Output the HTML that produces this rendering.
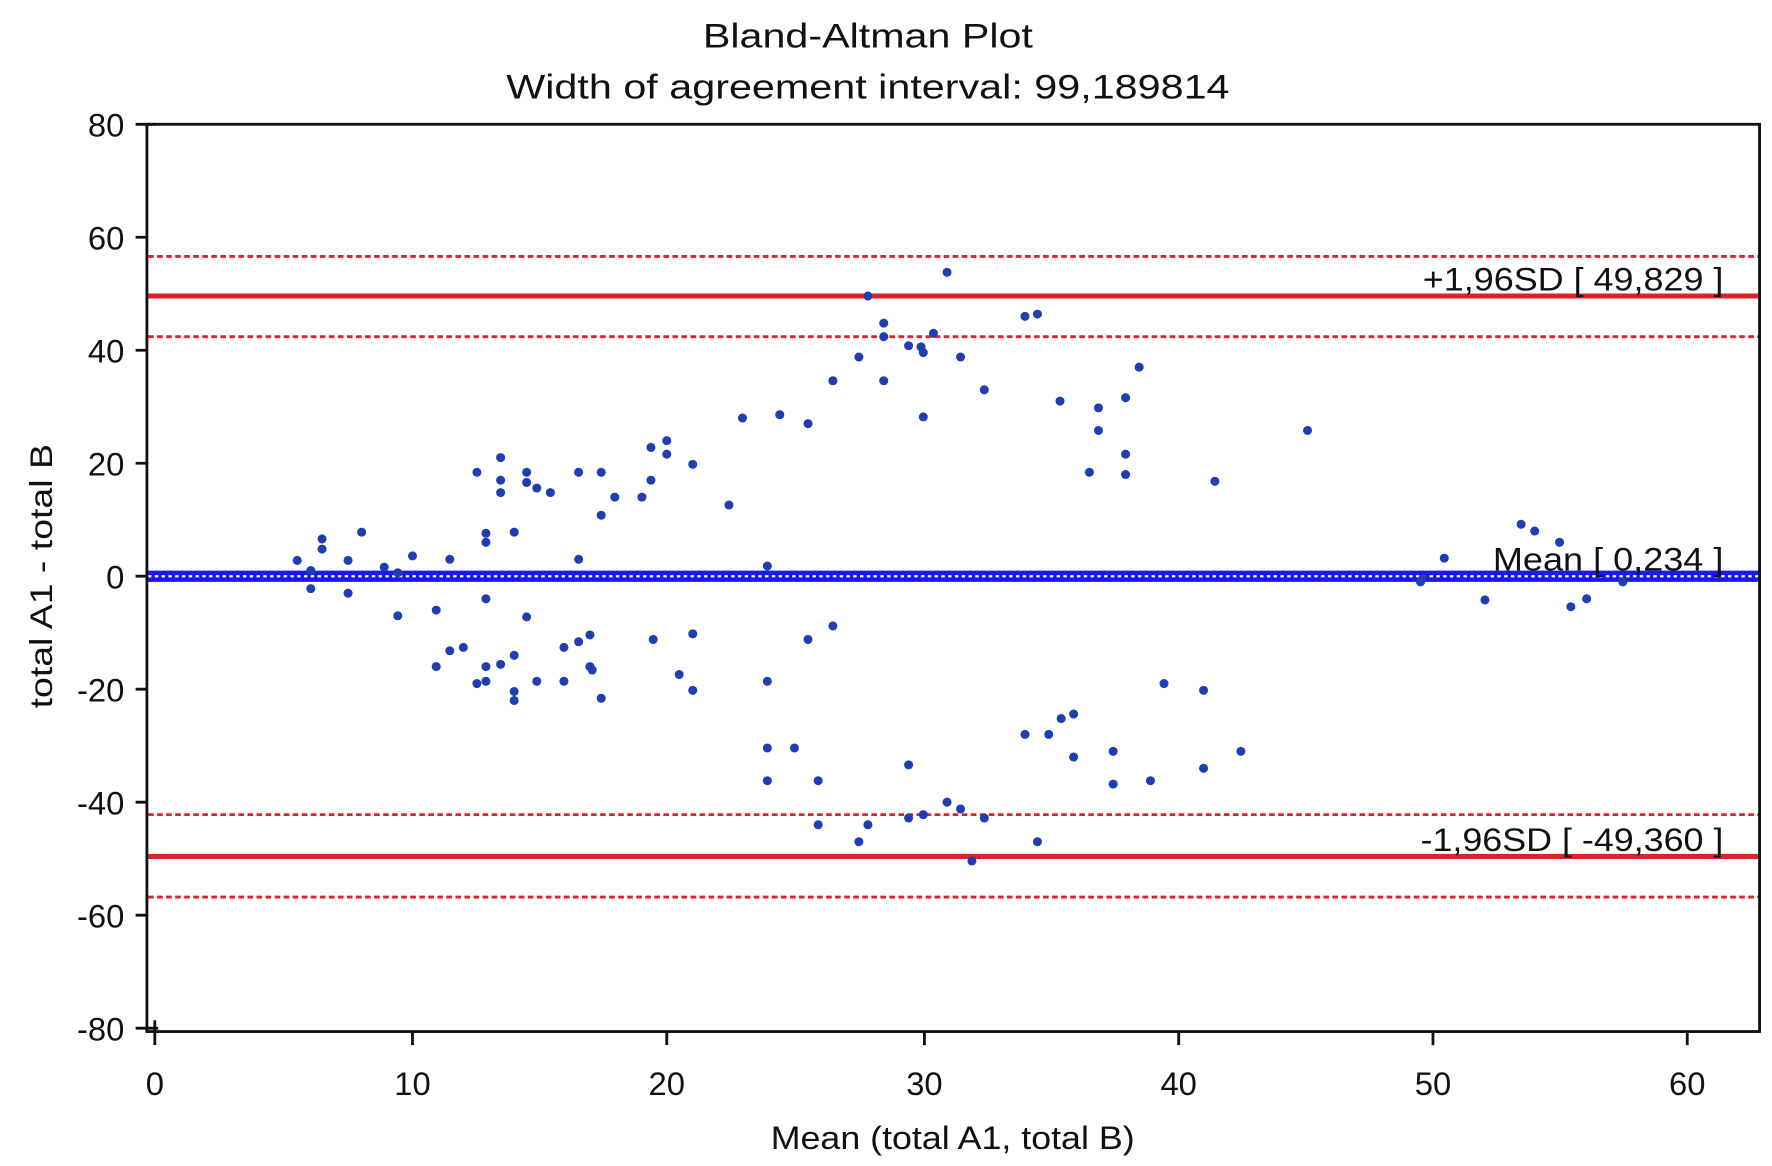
<!DOCTYPE html>
<html><head><meta charset="utf-8"><style>html,body{margin:0;padding:0;background:#fff}svg{display:block}</style></head>
<body>
<svg width="1772" height="1166" viewBox="0 0 1568 1032" preserveAspectRatio="none" xmlns="http://www.w3.org/2000/svg" font-family="Liberation Sans, sans-serif" fill="#111">
<text x="768" y="42" font-size="30" text-anchor="middle" textLength="292" lengthAdjust="spacingAndGlyphs">Bland-Altman Plot</text>
<text x="768" y="87" font-size="30" text-anchor="middle" textLength="640" lengthAdjust="spacingAndGlyphs">Width of agreement interval: 99,189814</text>
<g stroke="#e0202a" stroke-width="2.5" stroke-dasharray="5,3">
<line x1="131" y1="227" x2="1556" y2="227"/><line x1="131" y1="298" x2="1556" y2="298"/>
<line x1="131" y1="721" x2="1556" y2="721"/><line x1="131" y1="794" x2="1556" y2="794"/>
</g>
<g stroke="#e0202a" stroke-width="4.5">
<line x1="131" y1="262" x2="1556" y2="262"/><line x1="131" y1="758" x2="1556" y2="758"/>
</g>
<line x1="131" y1="510" x2="1556" y2="510" stroke="#1a1aee" stroke-width="10"/>
<line x1="131" y1="510" x2="1556" y2="510" stroke="#fff" stroke-width="2" stroke-dasharray="3,3"/>
<g font-size="29" text-anchor="end">
<text x="1525" y="257" textLength="266" lengthAdjust="spacingAndGlyphs">+1,96SD [ 49,829 ]</text>
<text x="1525" y="505" textLength="204" lengthAdjust="spacingAndGlyphs">Mean [ 0,234 ]</text>
<text x="1525" y="753" textLength="268" lengthAdjust="spacingAndGlyphs">-1,96SD [ -49,360 ]</text>
</g>
<g fill="#1f3fb0">
<circle cx="263" cy="496" r="4"/><circle cx="275" cy="505" r="4"/><circle cx="275" cy="521" r="4"/><circle cx="285" cy="477" r="4"/><circle cx="285" cy="486" r="4"/><circle cx="308" cy="496" r="4"/><circle cx="308" cy="525" r="4"/><circle cx="320" cy="471" r="4"/><circle cx="340" cy="502" r="4"/><circle cx="352" cy="507" r="4"/><circle cx="352" cy="545" r="4"/><circle cx="365" cy="492" r="4"/><circle cx="386" cy="540" r="4"/><circle cx="398" cy="495" r="4"/><circle cx="398" cy="576" r="4"/><circle cx="410" cy="573" r="4"/><circle cx="386" cy="590" r="4"/><circle cx="422" cy="418" r="4"/><circle cx="422" cy="605" r="4"/><circle cx="430" cy="472" r="4"/><circle cx="430" cy="480" r="4"/><circle cx="430" cy="530" r="4"/><circle cx="430" cy="590" r="4"/><circle cx="430" cy="603" r="4"/><circle cx="443" cy="405" r="4"/><circle cx="443" cy="425" r="4"/><circle cx="443" cy="436" r="4"/><circle cx="443" cy="588" r="4"/><circle cx="455" cy="471" r="4"/><circle cx="455" cy="580" r="4"/><circle cx="455" cy="612" r="4"/><circle cx="455" cy="620" r="4"/><circle cx="466" cy="418" r="4"/><circle cx="466" cy="427" r="4"/><circle cx="466" cy="546" r="4"/><circle cx="475" cy="432" r="4"/><circle cx="475" cy="603" r="4"/><circle cx="487" cy="436" r="4"/><circle cx="499" cy="573" r="4"/><circle cx="499" cy="603" r="4"/><circle cx="512" cy="418" r="4"/><circle cx="512" cy="495" r="4"/><circle cx="512" cy="568" r="4"/><circle cx="522" cy="562" r="4"/><circle cx="522" cy="590" r="4"/><circle cx="524" cy="593" r="4"/><circle cx="532" cy="418" r="4"/><circle cx="532" cy="456" r="4"/><circle cx="532" cy="618" r="4"/><circle cx="544" cy="440" r="4"/><circle cx="568" cy="440" r="4"/><circle cx="576" cy="425" r="4"/><circle cx="576" cy="396" r="4"/><circle cx="578" cy="566" r="4"/><circle cx="590" cy="390" r="4"/><circle cx="590" cy="402" r="4"/><circle cx="601" cy="597" r="4"/><circle cx="613" cy="411" r="4"/><circle cx="613" cy="561" r="4"/><circle cx="613" cy="611" r="4"/><circle cx="645" cy="447" r="4"/><circle cx="657" cy="370" r="4"/><circle cx="679" cy="501" r="4"/><circle cx="679" cy="603" r="4"/><circle cx="679" cy="662" r="4"/><circle cx="679" cy="691" r="4"/><circle cx="690" cy="367" r="4"/><circle cx="703" cy="662" r="4"/><circle cx="715" cy="375" r="4"/><circle cx="715" cy="566" r="4"/><circle cx="724" cy="691" r="4"/><circle cx="724" cy="730" r="4"/><circle cx="737" cy="337" r="4"/><circle cx="737" cy="554" r="4"/><circle cx="760" cy="316" r="4"/><circle cx="760" cy="745" r="4"/><circle cx="768" cy="262" r="4"/><circle cx="768" cy="730" r="4"/><circle cx="782" cy="286" r="4"/><circle cx="782" cy="298" r="4"/><circle cx="782" cy="337" r="4"/><circle cx="804" cy="306" r="4"/><circle cx="804" cy="677" r="4"/><circle cx="804" cy="724" r="4"/><circle cx="815" cy="307" r="4"/><circle cx="817" cy="312" r="4"/><circle cx="817" cy="369" r="4"/><circle cx="817" cy="721" r="4"/><circle cx="826" cy="295" r="4"/><circle cx="838" cy="710" r="4"/><circle cx="850" cy="316" r="4"/><circle cx="850" cy="716" r="4"/><circle cx="860" cy="762" r="4"/><circle cx="871" cy="345" r="4"/><circle cx="871" cy="724" r="4"/><circle cx="907" cy="280" r="4"/><circle cx="907" cy="650" r="4"/><circle cx="918" cy="278" r="4"/><circle cx="918" cy="745" r="4"/><circle cx="928" cy="650" r="4"/><circle cx="938" cy="355" r="4"/><circle cx="939" cy="636" r="4"/><circle cx="950" cy="632" r="4"/><circle cx="950" cy="670" r="4"/><circle cx="964" cy="418" r="4"/><circle cx="972" cy="361" r="4"/><circle cx="972" cy="381" r="4"/><circle cx="985" cy="665" r="4"/><circle cx="985" cy="694" r="4"/><circle cx="996" cy="352" r="4"/><circle cx="996" cy="402" r="4"/><circle cx="996" cy="420" r="4"/><circle cx="1008" cy="325" r="4"/><circle cx="1018" cy="691" r="4"/><circle cx="1030" cy="605" r="4"/><circle cx="1065" cy="611" r="4"/><circle cx="1065" cy="680" r="4"/><circle cx="1075" cy="426" r="4"/><circle cx="1098" cy="665" r="4"/><circle cx="1157" cy="381" r="4"/><circle cx="838" cy="241" r="4"/><circle cx="1257" cy="515" r="4"/><circle cx="1259" cy="512" r="4"/><circle cx="1278" cy="494" r="4"/><circle cx="1314" cy="531" r="4"/><circle cx="1346" cy="464" r="4"/><circle cx="1358" cy="470" r="4"/><circle cx="1380" cy="480" r="4"/><circle cx="1390" cy="537" r="4"/><circle cx="1404" cy="530" r="4"/><circle cx="1436" cy="515" r="4"/>
</g>
<g stroke="#111" stroke-width="2.5" fill="none">
<rect x="130" y="110" width="1427" height="803"/>
<path d="M120 110H138M120 210H130M120 310H130M120 410H130M120 510H130M120 610H130M120 710H130M120 810H130M120 910H140M137 903V925M365 913V925M590 913V925M818 913V925M1043 913V925M1268 913V925M1493 913V925"/>
</g>
<g font-size="29" text-anchor="end">
<text x="110" y="121">80</text><text x="110" y="221">60</text><text x="110" y="321">40</text><text x="110" y="421">20</text><text x="110" y="521">0</text><text x="110" y="621">-20</text><text x="110" y="721">-40</text><text x="110" y="821">-60</text><text x="110" y="921">-80</text>
</g>
<g font-size="29" text-anchor="middle">
<text x="137" y="969">0</text><text x="365" y="969">10</text><text x="590" y="969">20</text><text x="818" y="969">30</text><text x="1043" y="969">40</text><text x="1268" y="969">50</text><text x="1493" y="969">60</text>
<text x="843" y="1017" textLength="322" lengthAdjust="spacingAndGlyphs">Mean (total A1, total B)</text>
<text transform="translate(46,510) rotate(-90)" font-size="28" textLength="234" lengthAdjust="spacingAndGlyphs">total A1 - total B</text>
</g>
</svg>
</body></html>
